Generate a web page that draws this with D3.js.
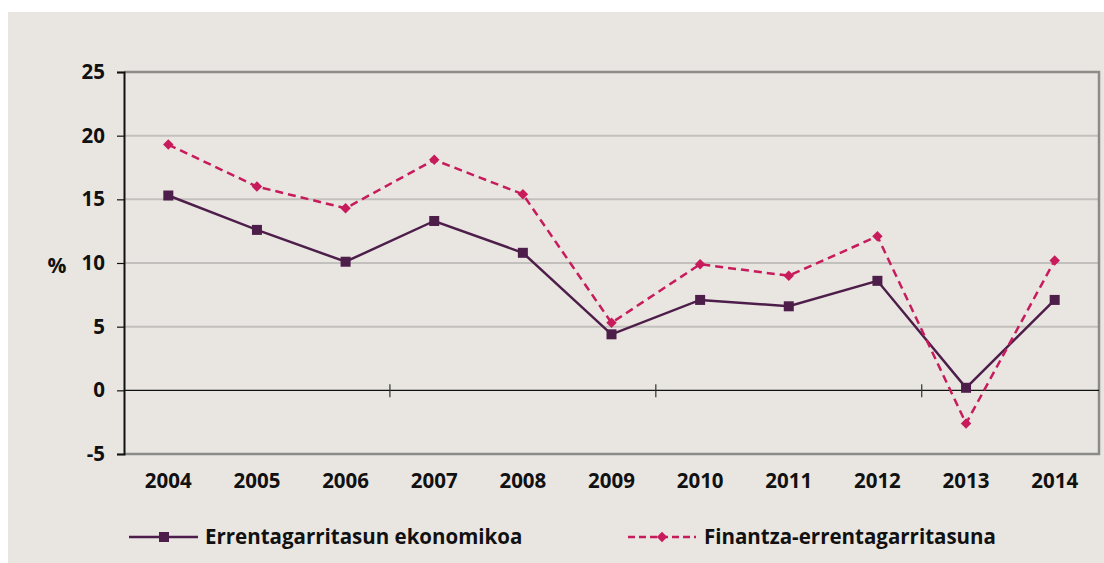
<!DOCTYPE html>
<html>
<head>
<meta charset="utf-8">
<script src="https://cdn.jsdelivr.net/npm/d3@7"></script>
<style>
  body { margin: 0; background: #fff; }
  svg text { font-family: "Open Sans", sans-serif; font-weight: 700; fill: #111; }
</style>
</head>
<body>
<div id="chart"></div>
<script>
// data
var years = ["2004", "2005", "2006", "2007", "2008", "2009", "2010", "2011", "2012", "2013", "2014"];
var ekonomikoa = [15.3, 12.6, 10.1, 13.3, 10.8, 4.4, 7.1, 6.6, 8.6, 0.2, 7.1];
var finantza = [19.3, 16.0, 14.3, 18.1, 15.4, 5.3, 9.9, 9.0, 12.1, -2.6, 10.2];
var yTicks = [-5, 0, 5, 10, 15, 20, 25];
var seriesNames = ["Errentagarritasun ekonomikoa", "Finantza-errentagarritasuna"];

var W = 1104, H = 563;
var margin = {left: 124, right: 5, top: 72, bottom: 110};
var fs = 20.5;

var svg = d3.select("#chart").append("svg")
    .attr("width", W)
    .attr("height", H);

// beige panel
svg.append("rect")
    .attr("x", 8).attr("y", 12)
    .attr("width", W - 8).attr("height", H - 12)
    .attr("fill", "#e9e6e1");

var x = d3.scaleBand()
    .domain(years)
    .range([margin.left, W - margin.right]);

var y = d3.scaleLinear()
    .domain([-5, 25])
    .range([H - margin.bottom + 1, margin.top]);

var x0 = x.range()[0], x1 = x.range()[1];

// gridlines
svg.append("g")
    .selectAll("line")
    .data(yTicks.filter(function(d) { return d != 0 && d != 25 && d != -5; }))
    .enter().append("line")
      .attr("x1", x0).attr("x2", x1)
      .attr("y1", function(d) { return y(d); })
      .attr("y2", function(d) { return y(d); })
      .attr("stroke", "#c2c0bc")
      .attr("stroke-width", 2);

// plot frame (top, right, bottom)
svg.append("path")
    .attr("d", "M" + x0 + "," + y(25) + "H" + x1 + "V" + y(-5) + "H" + x0)
    .attr("fill", "none")
    .attr("stroke", "#8c8b89")
    .attr("stroke-width", 2.5);

// zero line with ticks every 3 categories
svg.append("line")
    .attr("x1", x0).attr("x2", x1)
    .attr("y1", y(0)).attr("y2", y(0))
    .attr("stroke", "#111").attr("stroke-width", 1.2);

svg.append("g")
    .selectAll("line")
    .data([3, 6, 9])
    .enter().append("line")
      .attr("x1", function(d) { return x0 + d * x.step(); })
      .attr("x2", function(d) { return x0 + d * x.step(); })
      .attr("y1", y(0) - 6).attr("y2", y(0) + 7)
      .attr("stroke", "#333").attr("stroke-width", 1.2);

// y axis
var yAxis = svg.append("g")
    .attr("transform", "translate(" + x0 + ",0)")
    .call(d3.axisLeft(y).tickValues(yTicks).tickSize(7).tickPadding(12)
        .tickFormat(function(d) { return String(d); }));
yAxis.select(".domain").attr("stroke", "#111").attr("stroke-width", 2);
yAxis.selectAll(".tick line").attr("stroke", "#111").attr("stroke-width", 1.2);
yAxis.selectAll("text")
    .attr("font-size", fs)
    .attr("fill", "#111")
    .style("font-family", "'Open Sans', sans-serif")
    .style("font-weight", 700);

// x labels
svg.append("g")
    .selectAll("text")
    .data(years)
    .enter().append("text")
      .attr("x", function(d) { return x(d) + x.bandwidth() / 2; })
      .attr("y", 488)
      .attr("text-anchor", "middle")
      .attr("font-size", fs)
      .text(function(d) { return d; });

// % label
svg.append("text")
    .attr("x", 57).attr("y", 273)
    .attr("text-anchor", "middle")
    .attr("font-size", 21)
    .text("%");

var line = d3.line()
    .x(function(d, i) { return x(years[i]) + x.bandwidth() / 2; })
    .y(function(d) { return y(d); });

// series 1: solid, squares
svg.append("path")
    .datum(ekonomikoa)
    .attr("fill", "none")
    .attr("stroke", "#4e1e4b")
    .attr("stroke-width", 2.5)
    .attr("d", line);

svg.append("g")
    .selectAll("rect")
    .data(ekonomikoa)
    .enter().append("rect")
      .attr("x", function(d, i) { return x(years[i]) + x.bandwidth() / 2 - 5; })
      .attr("y", function(d) { return y(d) - 5; })
      .attr("width", 10).attr("height", 10)
      .attr("fill", "#4e1e4b");

// series 2: dashed, diamonds
svg.append("path")
    .datum(finantza)
    .attr("fill", "none")
    .attr("stroke", "#c71b5c")
    .attr("stroke-width", 2.5)
    .attr("stroke-dasharray", "8,5")
    .attr("d", line);

var diamond = d3.symbol().type(d3.symbolDiamond2).size(70);
svg.append("g")
    .selectAll("path")
    .data(finantza)
    .enter().append("path")
      .attr("transform", function(d, i) {
          return "translate(" + (x(years[i]) + x.bandwidth() / 2) + "," + y(d) + ")";
      })
      .attr("d", diamond)
      .attr("fill", "#c71b5c");

// legend
var leg = svg.append("g");
leg.append("line")
    .attr("x1", 129).attr("x2", 198).attr("y1", 537).attr("y2", 537)
    .attr("stroke", "#4e1e4b").attr("stroke-width", 2.5);
leg.append("rect")
    .attr("x", 159).attr("y", 532).attr("width", 10).attr("height", 10)
    .attr("fill", "#4e1e4b");
leg.append("text")
    .attr("x", 205).attr("y", 544)
    .attr("font-size", fs)
    .text(seriesNames[0]);

leg.append("line")
    .attr("x1", 628).attr("x2", 696).attr("y1", 537).attr("y2", 537)
    .attr("stroke", "#c71b5c").attr("stroke-width", 2.5)
    .attr("stroke-dasharray", "7,4");
leg.append("path")
    .attr("transform", "translate(662,537)")
    .attr("d", diamond)
    .attr("fill", "#c71b5c");
leg.append("text")
    .attr("x", 704).attr("y", 544)
    .attr("font-size", fs)
    .text(seriesNames[1]);
</script>
</body>
</html>
